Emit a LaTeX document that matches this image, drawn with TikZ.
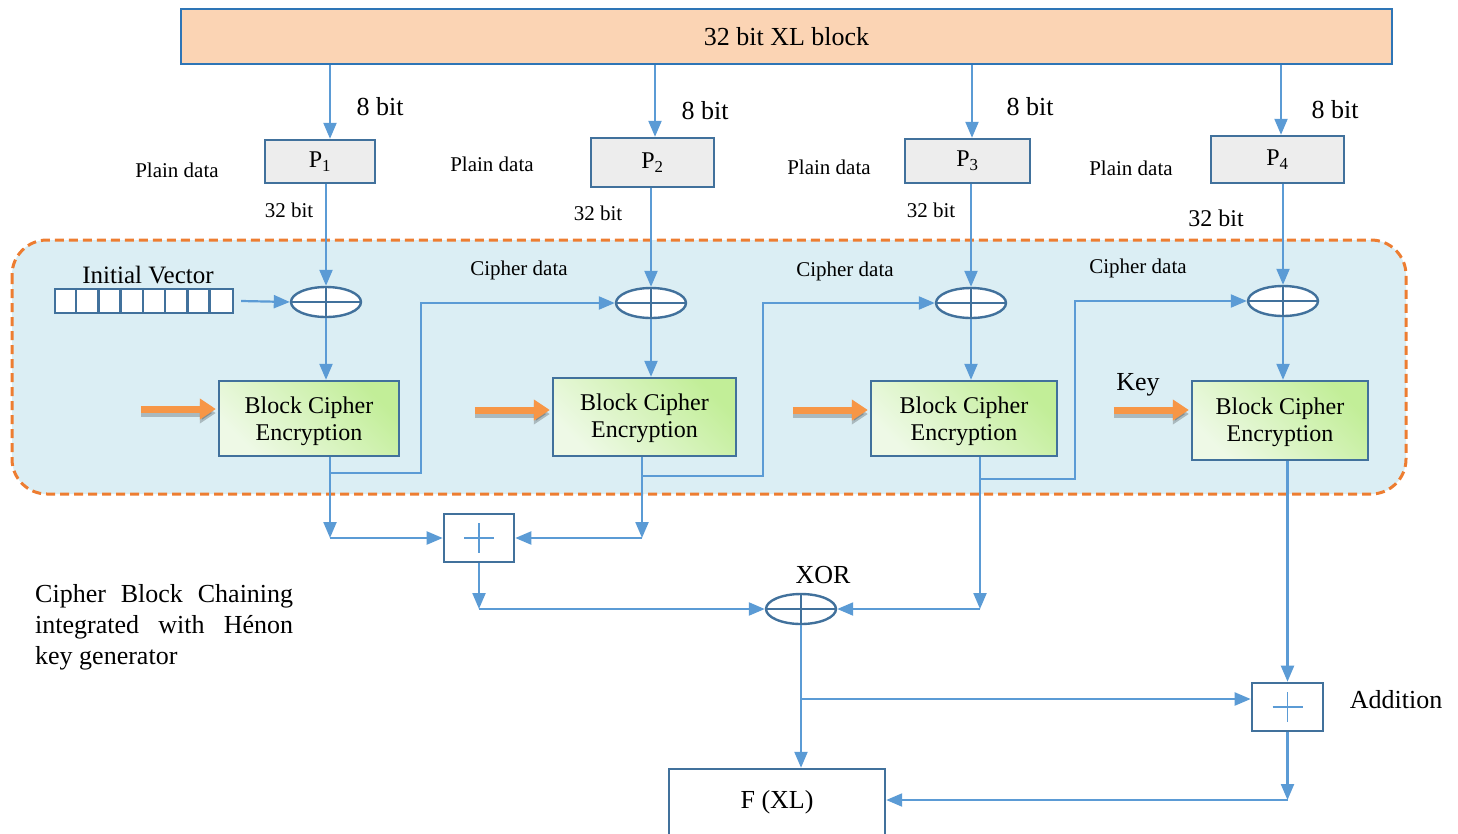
\documentclass[tikz,border=0pt]{standalone}
\usepackage{graphicx}
\usepackage{fontspec}
\setmainfont{Liberation Serif}
\usetikzlibrary{arrows.meta,shapes.geometric,calc}
\definecolor{ablue}{HTML}{5B9BD5}
\definecolor{bblue}{HTML}{41719C}
\definecolor{tblue}{HTML}{2E75B6}
\definecolor{peach}{HTML}{FBD4B4}
\definecolor{lgray}{HTML}{EDEDED}
\definecolor{bgblue}{HTML}{DBEEF4}
\definecolor{dorange}{HTML}{ED7D31}
\definecolor{korange}{HTML}{F79646}
\definecolor{gdark}{HTML}{C2EE98}
\definecolor{glight}{HTML}{EEF9E6}
\newcommand{\fs}[1]{\fontsize{#1}{#1}\selectfont}
\tikzset{
  conn/.style={ablue, line width=2.2pt},
  arr/.style={conn, -{Triangle[length=16pt,width=13pt]}},
  pbox/.style={draw=bblue, line width=2.4pt, fill=lgray, inner sep=0pt, font=\fs{24}},
  bcbox/.style={draw=bblue, line width=2.4pt, inner sep=0pt, top color=gdark, bottom color=glight, shading angle=-45, align=center, font=\fs{24}},
  bctext/.style={inner sep=0pt, align=center, font=\fs{24}},
  xorn/.style={ellipse, draw=bblue, line width=2.4pt, fill=white, minimum width=70pt, minimum height=30pt, inner sep=0pt,
    path picture={\draw[bblue, line width=2.4pt] (path picture bounding box.north) -- (path picture bounding box.south) (path picture bounding box.west) -- (path picture bounding box.east);}},
  addbox/.style={draw=bblue, line width=2.6pt, fill=white, inner sep=0pt, minimum width=70pt, minimum height=48pt,
    path picture={\draw[ablue, line width=1.2pt] ($(path picture bounding box.center)+(-15,0)$) -- ($(path picture bounding box.center)+(15,0)$) ($(path picture bounding box.center)+(0,-15)$) -- ($(path picture bounding box.center)+(0,15)$);}},
  karr/.style={korange, line width=7pt, -{Triangle[length=16pt,width=20pt]}},
  kshadow/.style={black, opacity=0.22, line width=7pt, -{Triangle[length=16pt,width=20pt]}, shift={(3,4)}},
  lbl/.style={inner sep=0pt},
}
\begin{document}
\begin{tikzpicture}[x=1pt,y=-1pt]
\useasboundingbox (0,0) rectangle (1458,833);
% background region
\draw[dorange, line width=3pt, dash pattern=on 9pt off 5pt, fill=bgblue, rounded corners=35pt] (12,240) rectangle (1406,494);

% top block
\node[draw=tblue, line width=2.2pt, fill=peach, minimum width=1211pt, minimum height=55pt, inner sep=0pt, font=\fs{26}] (top) at (786.5,36.5) {32 bit XL block};

% P boxes
\node[pbox, minimum width=110pt, minimum height=43pt] (p1) at (320,161.5) {P\textsubscript{1}};
\node[pbox, minimum width=123pt, minimum height=49pt] (p2) at (652.5,162.5) {P\textsubscript{2}};
\node[pbox, minimum width=125pt, minimum height=44pt] (p3) at (967.5,161) {P\textsubscript{3}};
\node[pbox, minimum width=133pt, minimum height=47pt] (p4) at (1277.5,159.5) {P\textsubscript{4}};

% labels
\foreach \x/\y [count=\i] in {380/107,705/111,1030/107,1335/110}
  \node[lbl, font=\fs{26}] (eb\i) at (\x,\y) {8 bit};
\foreach \x/\y [count=\i] in {177/170,492/164,829/167,1131/168}
  \node[lbl, font=\fs{21}] (pd\i) at (\x,\y) {Plain data};
\foreach \x/\y [count=\i] in {289/210,598/213,931/210}
  \node[lbl, font=\fs{21}] (tb\i) at (\x,\y) {32 bit};
\node[lbl, font=\fs{24}] (tb4) at (1216,218) {32 bit};
\foreach \x/\y [count=\i] in {519/270,845/271,1138/268}
  \node[lbl, font=\fs{21}] (cd\i) at (\x,\y) {Cipher data};
\node[lbl, font=\fs{25}] (ivl) at (148,275) {Initial Vector};
\node[lbl, font=\fs{26}] (key) at (1138,385) {Key};

% XOR nodes
\node[xorn] (x1) at (326,302) {};
\node[xorn] (x2) at (651,303) {};
\node[xorn] (x3) at (971,303) {};
\node[xorn] (x4) at (1283,301) {};
\node[xorn] (xb) at (801,609) {};
\node[lbl, font=\fs{26}] (xorl) at (823,575) {XOR};

% initial vector
\node[draw=bblue, line width=2.4pt, fill=white, minimum width=178pt, minimum height=24pt, inner sep=0pt] (iv) at (144,301) {};
\foreach \k in {1,...,7}
  \draw[bblue, line width=2.4pt] ($(iv.north west)+(\k*22.25,0)$) -- ($(iv.south west)+(\k*22.25,0)$);

% block cipher boxes
\node[bcbox, minimum width=180pt, minimum height=75pt] (b1) at (309,418.5) {};
\node[bcbox, minimum width=183pt, minimum height=78pt] (b2) at (644.5,417) {};
\node[bcbox, minimum width=186pt, minimum height=75pt] (b3) at (964,418.5) {};
\node[bcbox, minimum width=176pt, minimum height=79pt] (b4) at (1280,420.5) {};
\node[bctext] (t1) at (309,421.5) {Block Cipher\\[3pt]Encryption};
\node[bctext] (t2) at (644.5,418.5) {Block Cipher\\[3pt]Encryption};
\node[bctext] (t3) at (964,421) {Block Cipher\\[3pt]Encryption};
\node[bctext] (t4) at (1280,422.5) {Block Cipher\\[3pt]Encryption};

% addition boxes and output
\node[addbox] (a1) at (479,538) {};
\node[addbox, minimum width=71pt] (a2) at (1287.5,707) {};
\node[lbl, font=\fs{26}] (addl) at (1396,700) {Addition};
\node[draw=bblue, line width=2.4pt, fill=white, minimum width=216pt, minimum height=67pt, inner sep=0pt] (fx) at (777,802.5) {};
\node[lbl, font=\fs{26}] (fxl) at (777,802) {F (XL)};

% caption
\node[lbl, anchor=north west, align=left, font=\fontsize{26}{31}\selectfont] (cap) at (35,584)
  {\makebox[258pt][s]{Cipher Block Chaining}\\\makebox[258pt][s]{integrated with Hénon}\\key generator};

% top -> P
\draw[arr] (330,0 |- top.south) -- (330,0 |- p1.north);
\draw[arr] (655,0 |- top.south) -- (655,0 |- p2.north);
\draw[arr] (972,0 |- top.south) -- (972,0 |- p3.north);
\draw[arr] (1281,0 |- top.south) -- (1281,0 |- p4.north);

% P -> XOR
\draw[arr] (x1.north |- p1.south) -- (x1.north);
\draw[arr] (x2.north |- p2.south) -- (x2.north);
\draw[arr] (x3.north |- p3.south) -- (x3.north);
\draw[arr] (x4.north |- p4.south) -- (x4.north);

% IV -> XOR1
\draw[arr] ($(iv.east)+(7,0)$) -- (x1.west);

% XOR -> BC
\draw[arr] (x1.south) -- (x1.south |- b1.north);
\draw[arr] (x2.south) -- (x2.south |- b2.north);
\draw[arr] (x3.south) -- (x3.south |- b3.north);
\draw[arr] (x4.south) -- (x4.south |- b4.north);

% key arrows
\foreach \b/\y in {b1/409,b2/410,b3/410,b4/410}{
  \draw[kshadow] ($(\b.west |- 0,\y)+(-77,0)$) -- ($(\b.west |- 0,\y)+(-2,0)$);
  \draw[karr] ($(\b.west |- 0,\y)+(-77,0)$) -- ($(\b.west |- 0,\y)+(-2,0)$);
}

% chaining feedback
\draw[arr] (330,0 |- b1.south) -- (330,473) -- (421,473) |- (x2.west);
\draw[arr] (642,0 |- b2.south) -- (642,476) -- (763,476) |- (x3.west);
\draw[arr] (980,0 |- b3.south) -- (980,479) -- (1075,479) |- (x4.west);

% to addition box 1
\draw[arr] (330,473) -- (330,0 |- a1.west);
\draw[arr] (330,0 |- a1.west) -- (a1.west);
\draw[arr] (642,476) -- (642,0 |- a1.east);
\draw[arr] (642,0 |- a1.east) -- (a1.east);

% addition 1 -> XOR
\draw[arr] (a1.south) -- (a1.south |- xb.west);
\draw[arr] (a1.south |- xb.west) -- (xb.west);
\draw[arr] (980,479) -- (980,0 |- xb.east);
\draw[arr] (980,0 |- xb.east) -- (xb.east);

% XOR -> F(XL) and addition 2
\draw[arr] (xb.south) -- (xb.south |- fx.north);
\draw[arr] (xb.south |- 0,699) -- (a2.west |- 0,699);
\draw[arr] (a2.north |- b4.south) -- (a2.north);
\draw[arr] (a2.south) -- (a2.south |- 0,800);
\draw[arr] (a2.south |- 0,800) -- (fx.east |- 0,800);
\end{tikzpicture}
\end{document}
